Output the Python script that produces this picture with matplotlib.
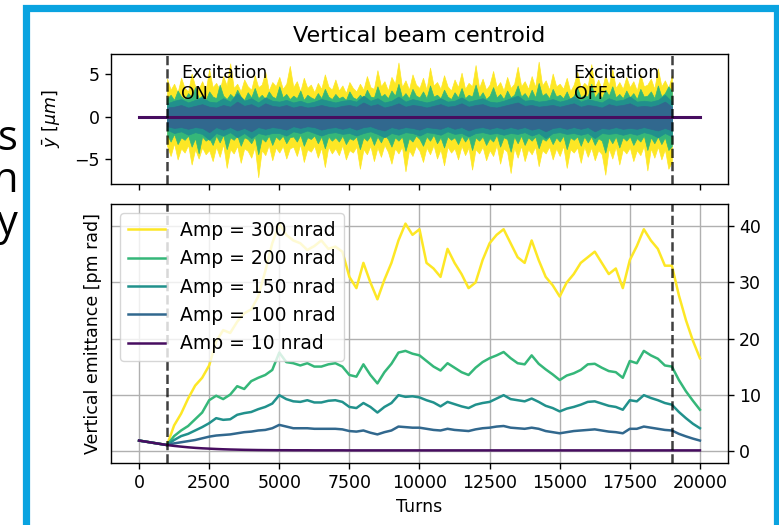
import numpy as np
import matplotlib
matplotlib.use("Agg")
import matplotlib.pyplot as plt
from matplotlib.patches import Rectangle

# excitation amplitudes [nrad] and labels
amps = [300, 200, 150, 100, 10]
labels = ["Amp = %d nrad" % a for a in amps]
exc_on, exc_off = 1000, 19000

# ---- vertical emittance [pm rad], sampled every 250 turns (0..20000)
emit_300 = [1.8, 1.6, 1.4, 1.2, 1.0, 4.5, 6.6, 9.3, 11.6, 13.0,
            15.2, 19.5, 21.5, 21.0, 23.0, 24.5, 25.2, 27.5, 32.0, 37.0,
            40.5, 38.5, 37.5, 37.0, 35.8, 36.5, 37.5, 36.0, 36.4, 35.5,
            31.0, 29.0, 33.5, 30.0, 27.0, 30.5, 33.5, 37.5, 40.5, 38.5,
            39.5, 33.5, 32.5, 31.0, 36.0, 33.5, 31.5, 29.0, 30.0, 34.0,
            37.0, 38.5, 39.5, 37.0, 34.5, 33.5, 37.5, 34.0, 31.0, 29.5,
            27.5, 30.0, 31.5, 33.5, 34.5, 35.5, 33.5, 31.5, 32.5, 29.0,
            34.0, 36.5, 39.5, 37.5, 36.0, 33.0, 33.0, 27.7, 23.3, 19.6,
            16.5]
emit_200 = [1.8, 1.6, 1.4, 1.2, 1.0, 2.6, 3.6, 4.4, 5.6, 6.8,
            9.0, 9.8, 9.2, 10.0, 11.5, 11.0, 12.4, 13.0, 13.5, 14.4,
            17.5, 15.8, 15.6, 15.2, 15.6, 15.0, 15.0, 15.4, 15.6, 15.0,
            13.5, 13.2, 15.4, 13.5, 12.0, 14.0, 15.5, 17.5, 17.8, 17.3,
            17.0, 16.0, 15.0, 14.3, 15.6, 14.8, 14.0, 13.5, 14.8, 15.8,
            16.5, 17.0, 17.6, 16.5, 15.6, 15.4, 17.0, 15.5, 14.5, 13.6,
            12.6, 13.4, 13.8, 14.4, 15.4, 15.5, 14.8, 14.2, 14.0, 13.0,
            16.0, 15.6, 17.8, 17.0, 16.4, 15.2, 15.0, 12.6, 10.6, 8.9,
            7.3]
emit_150 = [1.8, 1.6, 1.4, 1.2, 1.0, 1.9, 2.6, 3.0, 3.6, 4.2,
            4.9, 5.8, 5.5, 5.6, 6.4, 6.7, 6.9, 7.4, 7.8, 8.4,
            9.9, 9.2, 8.8, 8.7, 9.0, 8.6, 8.6, 8.9, 9.0, 8.7,
            7.8, 7.6, 8.5, 7.8, 6.8, 7.8, 8.5, 9.9, 9.6, 9.7,
            9.5, 9.0, 8.6, 7.9, 8.7, 8.3, 7.9, 7.6, 8.2, 8.5,
            8.7, 9.3, 9.9, 9.2, 9.0, 8.8, 9.3, 8.7, 8.0, 7.6,
            7.0, 7.5, 7.8, 8.2, 8.7, 8.8, 8.4, 8.0, 7.8, 7.3,
            9.0, 8.8, 9.9, 9.4, 9.0, 8.5, 8.2, 6.9, 5.8, 4.8,
            4.0]
emit_100 = [1.8, 1.6, 1.4, 1.2, 1.0, 1.3, 1.5, 1.7, 1.9, 2.2,
            2.5, 2.7, 2.8, 2.9, 3.1, 3.3, 3.4, 3.6, 3.7, 4.0,
            4.6, 4.3, 4.0, 4.0, 4.0, 3.9, 3.9, 3.9, 3.9, 3.8,
            3.5, 3.4, 3.6, 3.2, 2.9, 3.3, 3.6, 4.3, 4.2, 4.1,
            4.1, 3.9, 3.7, 3.6, 3.9, 3.7, 3.6, 3.5, 3.8, 4.0,
            4.1, 4.3, 4.4, 4.1, 4.0, 3.9, 4.1, 3.9, 3.5, 3.3,
            3.1, 3.3, 3.5, 3.6, 3.7, 3.8, 3.6, 3.4, 3.3, 3.1,
            3.9, 3.9, 4.3, 4.1, 3.9, 3.7, 3.6, 3.0, 2.55, 2.15,
            1.8]
emit_10 = [1.8, 1.6, 1.4, 1.2, 1.0, 0.85, 0.72, 0.6, 0.5, 0.42,
           0.36, 0.3, 0.25, 0.21, 0.18, 0.15, 0.13, 0.11, 0.1, 0.09,
           0.08, 0.08, 0.07, 0.07, 0.07, 0.06, 0.06, 0.06, 0.06, 0.06,
           0.05, 0.05, 0.05, 0.05, 0.05, 0.05, 0.05, 0.05, 0.05, 0.05,
           0.05, 0.05, 0.05, 0.05, 0.05, 0.05, 0.05, 0.05, 0.05, 0.05,
           0.05, 0.05, 0.05, 0.05, 0.05, 0.05, 0.05, 0.05, 0.05, 0.05,
           0.05, 0.05, 0.05, 0.05, 0.05, 0.05, 0.05, 0.05, 0.05, 0.05,
           0.05, 0.05, 0.05, 0.05, 0.05, 0.05, 0.05, 0.05, 0.05, 0.05,
           0.05]

# ---- centroid envelope [um] while the excitation is on (1000..19000)
# outer two series read every 125 turns, inner two every 250 turns
cen_up_300 = [4.5, 3.2, 3.9, 2.9, 4.6, 3.4, 3.0, 5.1, 3.6, 3.3, 4.2, 3.1,
              5.6, 3.5, 4.0, 3.2, 4.8, 3.7, 6.3, 3.4, 3.9, 3.0, 4.4, 3.6,
              3.2, 4.9, 3.5, 3.8, 5.3, 3.1, 4.1, 3.6, 4.7, 3.3, 3.9, 6.0,
              3.5, 4.2, 3.0, 4.6, 3.4, 3.8, 2.9, 4.0, 3.3, 5.0, 3.6, 3.2,
              4.4, 3.1, 3.7, 2.8, 4.1, 3.4, 3.0, 3.9, 3.2, 4.8, 3.5, 3.3,
              5.5, 3.6, 4.2, 3.1, 4.7, 3.9, 6.4, 3.5, 4.3, 3.2, 5.0, 3.8,
              3.4, 4.6, 3.2, 5.8, 3.7, 4.1, 3.3, 4.9, 3.6, 3.1, 4.4, 3.5,
              5.2, 3.3, 4.0, 3.6, 6.1, 3.4, 4.5, 3.2, 3.8, 5.4, 3.5, 4.1,
              3.1, 4.7, 3.4, 3.9, 5.9, 3.6, 4.2, 3.3, 4.8, 3.5, 6.5, 3.7,
              4.3, 3.2, 5.1, 3.6, 3.9, 3.3, 4.6, 3.0, 3.8, 5.3, 3.4, 4.0,
              3.6, 6.2, 3.5, 4.4, 3.2, 4.9, 3.7, 5.6, 3.4, 4.1, 3.3, 4.7,
              3.5, 4.2, 3.1, 5.0, 3.6, 3.8, 4.5, 3.3, 5.7, 3.6, 4.3, 3.4,
              4.9]
cen_lo_300 = [-3.4, -4.6, -3.1, -5.0, -3.7, -4.2, -3.3, -5.6, -3.8, -4.9, -3.6, -4.4,
              -3.9, -5.2, -3.5, -4.7, -3.2, -6.0, -3.8, -4.3, -3.4, -5.4, -3.7, -4.0,
              -4.8, -3.5, -7.1, -3.9, -4.5, -3.3, -5.1, -3.6, -4.2, -3.4, -4.9, -3.7,
              -3.5, -4.6, -3.2, -5.3, -3.8, -4.1, -3.4, -4.8, -3.6, -5.9, -3.5, -4.3,
              -3.7, -4.5, -3.3, -5.0, -3.9, -4.2, -3.5, -6.1, -3.8, -4.4, -3.4, -5.2,
              -3.6, -4.7, -3.3, -4.1, -5.5, -3.7, -4.3, -3.5, -6.4, -3.9, -4.6, -3.4,
              -4.0, -5.3, -3.6, -4.4, -3.3, -4.9, -3.8, -5.7, -3.5, -4.2, -3.7, -5.0,
              -3.4, -4.5, -3.6, -6.2, -3.8, -4.3, -3.5, -5.1, -3.9, -4.6, -3.3, -5.5,
              -3.7, -4.1, -6.6, -3.6, -4.8, -3.4, -5.2, -3.8, -4.4, -3.5, -5.8, -3.9,
              -4.3, -3.5, -5.0, -3.7, -4.6, -3.4, -6.0, -3.8, -4.2, -3.6, -5.4, -3.5,
              -4.7, -3.6, -5.1, -3.9, -4.4, -6.8, -3.7, -4.9, -3.5, -5.6, -3.8, -4.3,
              -3.6, -5.2, -3.9, -4.5, -3.4, -6.3, -3.7, -4.8, -3.5, -5.0, -3.8, -6.1,
              -5.3]
cen_up_200 = [2.2, 2.6, 2.0, 3.1, 2.4, 2.1, 2.8, 2.3, 3.5, 2.2, 2.5, 2.0,
              3.0, 2.4, 2.2, 3.8, 2.5, 2.1, 2.7, 2.3, 3.2, 2.4, 2.0, 2.9,
              2.3, 3.4, 2.2, 2.6, 2.1, 3.0, 2.4, 2.2, 3.6, 2.3, 2.7, 2.1,
              2.5, 2.2, 3.1, 2.0, 2.6, 2.3, 2.1, 2.8, 2.2, 3.3, 2.4, 2.1,
              2.7, 2.2, 2.4, 2.0, 3.0, 2.3, 2.1, 2.6, 2.2, 3.2, 2.4, 2.3,
              3.6, 2.4, 2.7, 2.2, 3.1, 2.5, 3.9, 2.3, 2.8, 2.2, 3.3, 2.5,
              2.3, 3.0, 2.2, 3.7, 2.4, 2.6, 2.2, 3.2, 2.4, 2.1, 2.9, 2.3,
              3.4, 2.2, 2.6, 2.4, 3.8, 2.3, 2.9, 2.1, 2.5, 3.5, 2.3, 2.7,
              2.1, 3.1, 2.3, 2.6, 3.7, 2.4, 2.8, 2.2, 3.2, 2.3, 4.0, 2.5,
              2.8, 2.2, 3.3, 2.4, 2.6, 2.2, 3.0, 2.0, 2.5, 3.4, 2.3, 2.6,
              2.4, 3.9, 2.3, 2.9, 2.2, 3.2, 2.5, 3.6, 2.3, 2.7, 2.2, 3.1,
              2.3, 2.8, 2.1, 3.3, 2.4, 2.5, 3.0, 2.2, 3.7, 2.4, 2.8, 3.6,
              3.0]
cen_lo_200 = [-2.1, -2.9, -2.0, -3.2, -2.4, -2.7, -2.2, -3.5, -2.5, -4.3, -2.3, -2.8,
              -2.5, -3.3, -2.2, -3.0, -2.1, -3.8, -2.4, -2.7, -2.2, -3.4, -2.4, -2.6,
              -3.1, -2.3, -4.4, -2.5, -2.9, -2.2, -3.3, -2.3, -2.7, -2.2, -3.1, -2.4,
              -2.3, -2.9, -2.1, -3.4, -2.4, -2.6, -2.2, -3.1, -2.3, -3.7, -2.3, -2.8,
              -2.4, -2.9, -2.2, -3.2, -2.5, -2.7, -2.3, -3.8, -2.4, -2.8, -2.2, -3.3,
              -2.3, -3.0, -2.1, -2.6, -3.5, -2.4, -2.8, -2.3, -4.0, -2.5, -2.9, -2.2,
              -2.6, -3.4, -2.3, -2.8, -2.1, -3.1, -2.4, -3.6, -2.3, -2.7, -2.4, -3.2,
              -2.2, -2.9, -2.3, -3.9, -2.4, -2.8, -2.3, -3.3, -2.5, -2.9, -2.1, -3.5,
              -2.4, -2.6, -4.1, -2.3, -3.1, -2.2, -3.3, -2.4, -2.8, -2.3, -3.7, -2.5,
              -2.8, -2.3, -3.2, -2.4, -2.9, -2.2, -3.8, -2.4, -2.7, -2.3, -3.4, -2.3,
              -3.0, -2.3, -3.3, -2.5, -2.8, -4.2, -2.4, -3.1, -2.3, -3.6, -2.4, -2.8,
              -2.3, -3.3, -2.5, -2.9, -2.2, -3.9, -2.4, -3.1, -2.3, -3.2, -2.4, -3.9,
              -3.4]
cen_up_150 = [1.6, 1.9, 2.1, 1.7, 2.0, 2.3, 1.8, 1.7,
              2.2, 1.8, 2.8, 1.9, 2.2, 1.7, 2.3, 1.9,
              1.8, 2.0, 1.7, 1.9, 1.6, 1.8, 2.1, 1.9,
              1.7, 1.9, 2.0, 1.8, 2.5, 1.9, 2.2, 1.7,
              1.9, 2.4, 1.8, 2.1, 1.9, 1.7, 1.9, 2.2,
              1.8, 1.9, 2.3, 1.8, 2.0, 2.2, 1.8, 1.7,
              1.9, 2.2, 2.5, 1.9, 2.0, 1.8, 1.9, 2.1,
              1.8, 2.0, 2.4, 1.8, 2.1, 1.9, 1.7, 2.2,
              1.9, 2.0, 2.4, 1.8, 1.9, 1.8, 2.0, 2.6, 1.8]
cen_lo_150 = [-1.5, -1.9, -1.7, -2.1, -1.8, -2.0, -2.7, -1.9,
              -2.2, -1.8, -2.4, -1.9, -2.5, -1.9, -2.1, -1.9,
              -1.9, -2.2, -1.7, -1.9, -1.6, -1.9, -2.2, -1.9,
              -1.8, -2.0, -1.9, -2.2, -1.9, -1.7, -2.0, -2.4,
              -1.9, -2.1, -1.8, -1.9, -2.2, -1.8, -1.9, -2.1,
              -1.7, -2.0, -1.9, -2.3, -1.9, -1.8, -2.0, -1.9,
              -2.1, -1.9, -2.0, -1.8, -2.2, -1.9, -2.5, -1.9,
              -1.8, -2.0, -1.9, -2.1, -1.9, -2.5, -1.9, -2.0,
              -1.9, -2.1, -1.9, -2.1, -1.8, -2.0, -2.4, -1.9, -2.3]
cen_up_100 = [1.1, 1.2, 1.4, 1.1, 1.3, 1.5, 1.2, 1.1,
              1.4, 1.2, 1.8, 1.3, 1.5, 1.1, 1.6, 1.3,
              1.2, 1.4, 1.1, 1.3, 1.1, 1.2, 1.4, 1.2,
              1.1, 1.3, 1.4, 1.2, 1.7, 1.3, 1.5, 1.1,
              1.3, 1.6, 1.2, 1.4, 1.3, 1.1, 1.3, 1.5,
              1.2, 1.3, 1.6, 1.2, 1.4, 1.5, 1.2, 1.1,
              1.3, 1.5, 1.7, 1.3, 1.4, 1.2, 1.3, 1.4,
              1.2, 1.4, 1.6, 1.2, 1.4, 1.3, 1.1, 1.5,
              1.3, 1.4, 1.6, 1.2, 1.3, 1.2, 1.4, 1.8, 1.2]
cen_lo_100 = [-1.1, -1.3, -1.2, -1.4, -1.2, -1.3, -1.8, -1.2,
              -1.5, -1.2, -1.6, -1.3, -1.7, -1.2, -1.4, -1.2,
              -1.3, -1.5, -1.1, -1.3, -1.1, -1.2, -1.5, -1.3,
              -1.2, -1.4, -1.2, -1.5, -1.2, -1.1, -1.4, -1.6,
              -1.2, -1.4, -1.2, -1.3, -1.5, -1.2, -1.3, -1.4,
              -1.1, -1.4, -1.2, -1.6, -1.3, -1.2, -1.4, -1.2,
              -1.4, -1.2, -1.4, -1.2, -1.5, -1.3, -1.7, -1.3,
              -1.2, -1.4, -1.2, -1.4, -1.2, -1.7, -1.3, -1.4,
              -1.2, -1.4, -1.3, -1.4, -1.2, -1.4, -1.6, -1.3, -1.6]
# 10 nrad centroid stays on zero for the whole run
cen_turns_10 = [0, 20000]
cen_10 = [0.0, 0.0]

emits = [emit_300, emit_200, emit_150, emit_100, emit_10]
cen_up = [cen_up_300, cen_up_200, cen_up_150, cen_up_100]
cen_lo = [cen_lo_300, cen_lo_200, cen_lo_150, cen_lo_100]

colors = [plt.cm.viridis(a / max(amps)) for a in amps]

plt.rcParams["font.family"] = "DejaVu Sans"
plt.rcParams["font.size"] = 12.5

fig = plt.figure(figsize=(7.79, 5.25), dpi=100)
ax1 = fig.add_axes([0.1425, 0.6495, 0.792, 0.2476])
ax2 = fig.add_axes([0.1425, 0.1181, 0.792, 0.4933], sharex=ax1)

# top: centroid
for up, lo, c in zip(cen_up, cen_lo, colors[:4]):
    t = np.linspace(exc_on, exc_off, len(up))
    ax1.fill_between(t, lo, up, color=c, lw=0.5, edgecolor=c)
ax1.plot(cen_turns_10, cen_10, color=colors[4], lw=2.2)
ax1.axvline(exc_on, color="k", ls="--", lw=1.8, alpha=0.75)
ax1.axvline(exc_off, color="k", ls="--", lw=1.8, alpha=0.75)
ax1.text(1500, 1.6, "Excitation\nON", va="bottom", ha="left", zorder=5)
ax1.text(15500, 1.6, "Excitation\nOFF", va="bottom", ha="left", zorder=5)
ax1.set_ylim(-7.9, 7.4)
ax1.set_yticks([-5, 0, 5])
ax1.set_ylabel(r"$\bar{y}$ [$\mu m$]")
ax1.yaxis.set_label_coords(-0.079, 0.5)
ax1.set_title("Vertical beam centroid", fontsize=16, pad=9)
ax1.tick_params(labelbottom=False)

# bottom: emittance
for e, c, lab in zip(emits, colors, labels):
    t = np.linspace(0, 20000, len(e))
    ax2.plot(t, e, color=c, lw=1.8, label=lab)
ax2.axvline(exc_on, color="k", ls="--", lw=1.8, alpha=0.75)
ax2.axvline(exc_off, color="k", ls="--", lw=1.8, alpha=0.75)
ax2.grid(True, color="#b0b0b0", lw=1.0)
ax2.yaxis.tick_right()
ax2.set_ylim(-2.2, 44)
ax2.set_yticks([0, 10, 20, 30, 40])
ax2.set_xlim(-1000, 21000)
ax2.set_xticks(np.arange(0, 20001, 2500))
ax2.set_xlabel("Turns")
ax2.set_ylabel("Vertical emittance [pm rad]")
ax2.yaxis.set_label_position("left")
ax2.yaxis.set_label_coords(-0.014, 0.5)
ax2.legend(loc="upper left", fontsize=13.5, framealpha=0.8)

for ax in (ax1, ax2):
    ax.tick_params(length=4.4, width=1.0)
    for s in ax.spines.values():
        s.set_linewidth(1.0)

# slide frame and the cut-off slide text on the left
fig.patches.append(Rectangle((25.5 / 779, -0.1), 751 / 779, 1.1 - 8.5 / 525,
                             transform=fig.transFigure, fill=False,
                             edgecolor="#0aa3e0", lw=5.2))
for ch, yb in zip(["s", "n", "y"], [150, 192, 235]):
    fig.text(18 / 779, 1 - yb / 525, ch, ha="right", va="baseline",
             fontsize=30, family="Open Sans")

fig.savefig("out.png", dpi=100)
